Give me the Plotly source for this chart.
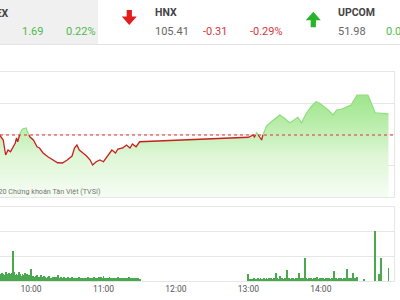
import pandas as pd
import plotly.graph_objects as go

DAY = "2020-07-01 "

# ---- price (VN-Index) ----
price_times = ["09:34", "09:37", "09:39", "09:41", "09:43", "09:47", "09:48", "09:49", "09:51", "09:53",
               "09:56", "09:57", "09:59", "10:02", "10:05", "10:07", "10:10", "10:14", "10:18", "10:22",
               "10:26", "10:30", "10:34", "10:36", "10:38", "10:40", "10:43", "10:46", "10:49", "10:51",
               "10:54", "10:57", "11:00", "11:03", "11:07", "11:10", "11:12", "11:16", "11:19", "11:22",
               "11:24", "11:27", "11:30",
               "13:00", "13:04", "13:05", "13:07", "13:09", "13:11", "13:12", "13:15", "13:19", "13:26",
               "13:30", "13:34", "13:37", "13:41", "13:44", "13:48", "13:52", "13:56", "13:59", "14:03",
               "14:06", "14:10", "14:13", "14:17", "14:21", "14:25", "14:30", "14:39", "14:45", "14:56"]
price_vals = [767.46, 767.06, 765.86, 766.26, 766.12, 766.82, 767.22, 766.92, 767.62, 767.94,
              768.02, 767.72, 767.32, 767.06, 766.52, 766.42, 766.02, 765.72, 765.46, 765.24,
              765.22, 765.46, 765.78, 766.42, 766.66, 766.26, 766.02, 765.78, 765.46, 765.06,
              765.32, 765.46, 765.32, 765.72, 766.26, 766.02, 766.34, 766.42, 766.66, 766.42,
              766.74, 766.52, 766.92,
              767.28, 767.46, 767.30, 767.64, 767.32, 767.06, 767.46, 768.18, 768.52, 769.06,
              768.80, 768.44, 768.60, 768.88, 768.44, 769.20, 769.72, 770.12, 770.00, 769.72,
              769.46, 769.06, 769.46, 769.52, 769.68, 769.86, 770.66, 770.66, 769.24, 769.15]
ref_price = 767.46

# ---- volume (million shares) ----
vol_morning = [0.30, 0.26, 0.34, 0.28, 0.24, 0.36, 0.30, 0.22, 0.32, 0.27,
               0.31, 1.22, 0.35, 0.26, 0.30, 0.24, 0.38, 0.28, 0.22, 0.30,
               0.26, 0.33, 0.20, 0.28, 0.24, 0.22, 0.49, 0.18, 0.22, 0.16,
               0.20, 0.24, 0.15, 0.18, 0.26, 0.14, 0.17, 0.20, 0.15, 0.13,
               0.16, 0.21, 0.14, 0.12, 0.18, 0.15, 0.13, 0.17, 0.24, 0.14,
               0.12, 0.15, 0.13, 0.18, 0.12, 0.14, 0.11, 0.16, 0.13, 0.12,
               0.15, 0.12, 0.14, 0.11, 0.13, 0.12, 0.16, 0.11, 0.13, 0.12,
               0.14, 0.11, 0.12, 0.15, 0.12, 0.13, 0.11, 0.14, 0.18, 0.12,
               0.13, 0.11, 0.15, 0.12, 0.16, 0.12, 0.22, 0.13, 0.11, 0.14,
               0.12, 0.15, 0.11, 0.13, 0.12, 0.14, 0.11, 0.12, 0.15, 0.11,
               0.13, 0.12, 0.11, 0.14, 0.12, 0.13, 0.11, 0.15, 0.12, 0.11,
               0.13, 0.12, 0.11, 0.14, 0.12, 0.11, 0.10]
vol_afternoon = [0.28, 0.06, 0.08, 0.10, 0.07, 0.12, 0.09, 0.08, 0.11, 0.10,
                 0.12, 0.09, 0.10, 0.13, 0.08, 0.11, 0.10, 0.14, 0.09, 0.12,
                 0.10, 0.13, 0.11, 0.31, 0.12, 0.10, 0.20, 0.11, 0.13, 0.09,
                 0.12, 0.10, 0.45, 0.11, 0.13, 0.10, 0.12, 0.14, 0.10, 0.11,
                 0.13, 0.10, 0.34, 0.12, 0.11, 0.14, 0.12, 0.95, 0.13, 0.10,
                 0.12, 0.11, 0.14, 0.10, 0.13, 0.12, 0.11, 0.15, 0.10, 0.12,
                 0.13, 0.11, 0.12, 0.10, 0.14, 0.12, 0.11, 0.13, 0.10, 0.12,
                 0.14, 0.42, 0.11, 0.13, 0.10, 0.12, 0.11, 0.14, 0.10, 0.12,
                 0.13, 0.11, 0.49, 0.12, 0.10, 0.14, 0.11, 0.31, 0.12, 0.10,
                 0.15]
vol_late_times = ["14:36", "14:45", "14:48", "14:50", "14:56"]
vol_late = [0.07, 2.03, 0.28, 0.95, 0.51]

tick_times = ["10:00", "11:00", "12:00", "13:00", "14:00", "15:00"]
tick_labels = ["10:00", "11:00", "12:00", "13:00", "14:00", "15:00"]

# header
idx_names = ["VN-INDEX", "HNX", "UPCOM"]
idx_values = ["", "105.41", "51.98"]
idx_changes = ["1.69", "-0.31", "0.07"]
idx_pcts = ["0.22%", "-0.29%", ""]

# ---------------------------------------------------------------
pt = pd.to_datetime([DAY + t for t in price_times])
vt_m = pd.date_range(DAY + "09:34", DAY + "11:30", freq="1min")
vt_a = pd.date_range(DAY + "13:00", DAY + "14:30", freq="1min")
vt_l = pd.to_datetime([DAY + t for t in vol_late_times])
vol_t = list(vt_m) + list(vt_a) + list(vt_l)
vol_v = vol_morning + vol_afternoon + vol_late

# split line into red (below reference) / green (above reference)
red_x, red_y, grn_x, grn_y = [], [], [], []


def add_seg(xs, ys, x0, y0, x1, y1):
    if xs and xs[-1] == x0 and ys[-1] == y0:
        xs.append(x1); ys.append(y1)
    else:
        if xs:
            xs.append(None); ys.append(None)
        xs.extend([x0, x1]); ys.extend([y0, y1])


for i in range(len(pt) - 1):
    x0, y0, x1, y1 = pt[i], price_vals[i], pt[i + 1], price_vals[i + 1]
    if (y0 - ref_price) * (y1 - ref_price) < 0:
        f = (ref_price - y0) / (y1 - y0)
        xc = x0 + (x1 - x0) * f
        first = (red_x, red_y) if y0 < ref_price else (grn_x, grn_y)
        second = (grn_x, grn_y) if y0 < ref_price else (red_x, red_y)
        add_seg(*first, x0, y0, xc, ref_price)
        add_seg(*second, xc, ref_price, x1, y1)
    else:
        tgt = (red_x, red_y) if max(y0, y1) <= ref_price else (grn_x, grn_y)
        add_seg(*tgt, x0, y0, x1, y1)

YMIN, YMAX = 762.5, 772.5
X0, X1 = DAY + "09:34:20", DAY + "15:00:35"

fig = go.Figure()
fig.add_trace(go.Scatter(
    x=pt, y=price_vals, mode="lines", line=dict(width=0, color="rgba(0,0,0,0)"),
    fill="tozeroy",
    fillgradient=dict(type="vertical", start=YMIN, stop=YMAX,
                      colorscale=[[0, "#f6fdf4"], [0.35, "#ddf6d5"], [0.5, "#c5f0b9"],
                                  [0.75, "#a6e894"], [1, "#8fe07a"]]),
    hoverinfo="skip", showlegend=False, xaxis="x", yaxis="y"))
fig.add_trace(go.Scatter(x=grn_x, y=grn_y, mode="lines",
                         line=dict(color="#8ede7b", width=1.2),
                         showlegend=False, xaxis="x", yaxis="y"))
fig.add_trace(go.Scatter(x=red_x, y=red_y, mode="lines",
                         line=dict(color="#c8201e", width=1.3),
                         showlegend=False, xaxis="x", yaxis="y"))
fig.add_trace(go.Bar(x=vol_t, y=vol_v, width=45000,
                     marker=dict(color="#4aa94e", line=dict(width=0)),
                     showlegend=False, xaxis="x2", yaxis="y2"))

GRID = "#e6e6e6"
W, H = 400, 300
ML, MR, MT, MB = 0, 6, 72, 19
PW, PH = W - ML - MR, H - MT - MB


def px(x):
    return (x - ML) / PW


def py(y):
    return (H - MB - y) / PH


fig.update_layout(
    width=W, height=H, margin=dict(l=ML, r=MR, t=MT, b=MB),
    paper_bgcolor="white", plot_bgcolor="white",
    font=dict(family="Roboto", color="#555"),
    bargap=0,
    xaxis=dict(domain=[0, 1], range=[X0, X1], type="date", anchor="y",
               showticklabels=False, showgrid=False, zeroline=False,
               showline=True, mirror=True, linecolor=GRID, linewidth=1),
    yaxis=dict(domain=[py(197), 1], range=[YMIN, YMAX], side="right", dtick=2.5, tick0=YMIN,
               showticklabels=False, showgrid=True, gridcolor=GRID, zeroline=False,
               showline=True, linecolor=GRID, linewidth=1),
    xaxis2=dict(domain=[0, 1], range=[X0, X1], type="date", anchor="y2",
                tickvals=pd.to_datetime([DAY + t for t in tick_times]), ticktext=tick_labels,
                tickfont=dict(family="Liberation Sans Narrow, Roboto", size=8.5, color="#555"),
                ticks="", showgrid=False, zeroline=False,
                showline=True, mirror=True, linecolor=GRID, linewidth=1),
    yaxis2=dict(domain=[0, py(207)], range=[0, 3], side="right", dtick=1,
                showticklabels=False, showgrid=True, gridcolor=GRID, zeroline=False,
                showline=True, linecolor=GRID, linewidth=1),
)

# reference (previous close) line
fig.add_shape(type="line", xref="paper", yref="y", x0=0, x1=1, y0=ref_price, y1=ref_price,
              line=dict(color="#e03030", width=1, dash="dot"), layer="above")

# header panel
fig.add_shape(type="rect", xref="paper", yref="paper", x0=px(0), x1=px(98), y0=py(44), y1=py(0),
              fillcolor="#f0f0f0", line=dict(width=0), layer="below")
fig.add_shape(type="line", xref="paper", yref="paper", x0=px(0), x1=px(400), y0=py(44.5), y1=py(44.5),
              line=dict(color="#e4e4e4", width=1))


def arrow(cx, ytop, ybot, down, color):
    hw, sw = 7.5, 2.6
    if down:
        yh = ybot - 8.5
        pts = [(cx - sw, ytop), (cx + sw, ytop), (cx + sw, yh), (cx + hw, yh), (cx, ybot),
               (cx - hw, yh), (cx - sw, yh)]
    else:
        yh = ytop + 8.5
        pts = [(cx, ytop), (cx + hw, yh), (cx + sw, yh), (cx + sw, ybot), (cx - sw, ybot),
               (cx - sw, yh), (cx - hw, yh)]
    path = "M " + " L ".join(f"{px(a):.5f},{py(b):.5f}" for a, b in pts) + " Z"
    fig.add_shape(type="path", xref="paper", yref="paper", path=path,
                  fillcolor=color, line=dict(width=0))


arrow(129.3, 10, 25, True, "#e51c1c")
arrow(313.3, 11.7, 27.3, False, "#27b42a")

NUMF = "Liberation Sans Narrow, Roboto"
GREEN_T, RED_T = "#4cbb4c", "#d9363e"


def txt(x, y, s, color, size=11, bold=False, anchor="left", fam=NUMF):
    if bold:
        s = f"<b>{s}</b>"
    fig.add_annotation(x=px(x), y=py(y), xref="paper", yref="paper", text=s, showarrow=False,
                       xanchor=anchor, yanchor="middle",
                       font=dict(family=fam, size=size, color=color))


txt(11, 13.5, idx_names[0], "#444", size=10.5, bold=True, anchor="right")
txt(19.5, 32, idx_changes[0], GREEN_T)
txt(63.5, 32, idx_pcts[0], GREEN_T)

txt(152.5, 13, idx_names[1], "#444", size=10.5, bold=True)
txt(152.5, 32, idx_values[1], "#666")
txt(200.5, 32, idx_changes[1], RED_T)
txt(247.5, 32, idx_pcts[1], RED_T)

txt(336, 13, idx_names[2], "#444", size=10.5, bold=True)
txt(336, 32, idx_values[2], "#666")
txt(383.5, 32, idx_changes[2], GREEN_T)

txt(102, 191, "© 2020 Chứng khoán Tân Việt (TVSI)", "#777", size=7.2, anchor="right")

fig.write_html("out.html")
